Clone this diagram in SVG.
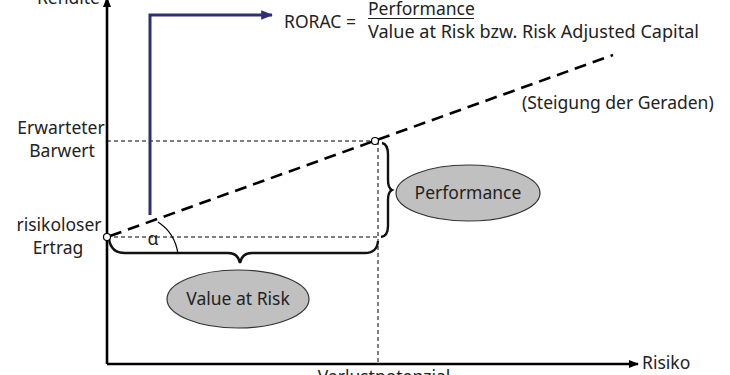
<svg xmlns="http://www.w3.org/2000/svg" width="730" height="375" viewBox="0 0 730 375">
<style>
text{font-family:"Noto Sans","Open Sans",sans-serif;font-size:17.5px;fill:#222}
.axis{stroke:#000;stroke-width:2.6;fill:none}
.thin{stroke:#000;stroke-width:1;stroke-dasharray:4 3;fill:none}
.thick{stroke:#000;stroke-width:2.6;stroke-dasharray:12 7;fill:none}
.brace{stroke:#111;stroke-width:2.4;fill:none}
.ell{fill:#c0c0c0;stroke:#333;stroke-width:1.2}
</style>
<defs>
<marker id="ah" viewBox="0 0 10 10" refX="9" refY="5" markerWidth="4" markerHeight="4" orient="auto" markerUnits="strokeWidth"><path d="M0,1 L10,5 L0,9 z" fill="#000"/></marker>
<marker id="ahb" viewBox="0 0 10 10" refX="9" refY="5" markerWidth="4" markerHeight="4" orient="auto" markerUnits="strokeWidth"><path d="M0,1 L10,5 L0,9 z" fill="#2e2e78"/></marker>
</defs>
<rect width="730" height="375" fill="#fff"/>
<g id="connectors">
<line class="axis" x1="107" y1="364" x2="107" y2="-2" marker-end="url(#ah)"/>
<line class="axis" x1="107" y1="364" x2="638" y2="364" stroke-width="2.2" marker-end="url(#ah)"/>
<line class="thin" x1="107" y1="141" x2="375" y2="141"/>
<line class="thin" x1="107" y1="237" x2="378" y2="237"/>
<line class="thin" x1="378" y1="141" x2="378" y2="364"/>
<line class="thick" x1="110" y1="236" x2="613" y2="55"/>
<path d="M150,215 V15 H272" stroke="#2e2e78" stroke-width="3" fill="none" marker-end="url(#ahb)"/>
<path d="M158,222 Q175,233 178,254" stroke="#000" stroke-width="1.2" fill="none"/>
<path class="brace" d="M109,239 Q111,253 125,253 H228 Q238,253 240,263 Q242,253 252,253 H365 Q377,253 378,241"/>
<path class="brace" d="M382,143 Q388,144 388,155 V180 Q388,188 392,190 Q388,192 388,200 V226 Q388,236 381,237"/>
</g>
<g id="origin"><circle cx="107" cy="237" r="3.5" fill="#fff" stroke="#000" stroke-width="1.2"/></g>
<g id="point"><circle cx="375" cy="141" r="3.5" fill="#fff" stroke="#000" stroke-width="1.2"/></g>
<g id="alpha"><text x="153" y="245" text-anchor="middle" font-size="14">α</text></g>
<g id="ylabel"><text x="100" y="4" text-anchor="end">Rendite</text></g>
<g id="erwarteter"><text x="61" y="134" text-anchor="middle">Erwarteter</text><text x="62" y="157" text-anchor="middle">Barwert</text></g>
<g id="risikoloser"><text x="59" y="231" text-anchor="middle">risikoloser</text><text x="58" y="254" text-anchor="middle">Ertrag</text></g>
<g id="rorac">
<text x="284" y="28">RORAC =</text>
<text x="368" y="15">Performance</text>
<line x1="368" y1="18.5" x2="474" y2="18.5" stroke="#222" stroke-width="1.2"/>
<text x="368" y="38" textLength="331" lengthAdjust="spacingAndGlyphs">Value at Risk bzw. Risk Adjusted Capital</text>
</g>
<g id="steigung"><text x="522" y="109">(Steigung der Geraden)</text></g>
<g id="performance"><ellipse class="ell" cx="468" cy="193" rx="72" ry="28"/><text x="468" y="199" text-anchor="middle">Performance</text></g>
<g id="var"><ellipse class="ell" cx="238" cy="299" rx="71" ry="29"/><text x="238" y="305" text-anchor="middle">Value at Risk</text></g>
<g id="risiko"><text x="642" y="369">Risiko</text></g>
<g id="verlust"><text x="384" y="383" text-anchor="middle">Verlustpotenzial</text></g>
</svg>
